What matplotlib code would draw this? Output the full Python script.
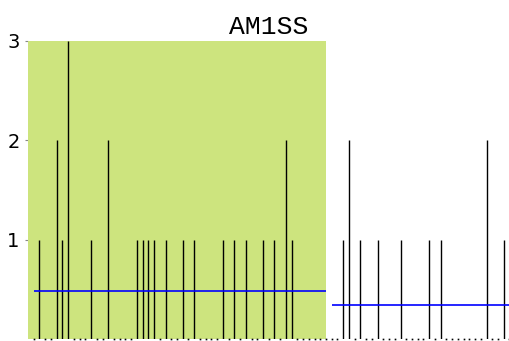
import numpy as np
import matplotlib.pyplot as plt

# --- Spike counts per position (1-based), zero elsewhere ---
n_pos = 84
spike_pos = [2, 5, 6, 7, 11, 14, 19, 20, 21, 22, 24, 27, 29, 34, 36, 38, 41, 43, 45, 46,
             55, 56, 58, 61, 65, 70, 72, 80, 83]
spike_val = [1, 2, 1, 3, 1, 2, 1, 1, 1, 1, 1, 1, 1, 1, 1, 1, 1, 1, 2, 1,
             1, 2, 1, 1, 1, 1, 1, 2, 1]

# --- Two segments, the first one shaded ---
seg_bounds = [(1, 52), (53, 84)]
title = "AM1SS"

counts = np.zeros(n_pos + 1)
counts[spike_pos] = spike_val
pos = np.arange(1, n_pos + 1)
vals = counts[1:]

fig = plt.figure(figsize=(5.10, 3.41), dpi=100)
ax = fig.add_axes([28 / 510, 2 / 341, 482 / 510, 298 / 341])

# shaded first segment
ax.axvspan(0, seg_bounds[0][1], color='#cde47e', lw=0, zorder=2)

# spikes and zero markers
nz = vals > 0
ax.vlines(pos[nz], 0, vals[nz], colors='black', lw=1, zorder=3)
ax.plot(pos[~nz], vals[~nz], ls='none', marker='s', ms=1.2, mew=0,
        color='black', clip_on=False, zorder=3)

# segment means
for a, b in seg_bounds:
    m = counts[a:b + 1].mean()
    ax.hlines(m, a, b, colors='#0000ff', lw=1.2, zorder=4)

ax.set_xlim(0, 84.1)
ax.set_ylim(0, 3)
ax.set_yticks([1, 2, 3])
ax.set_xticks([])
ax.tick_params(axis='y', length=2, direction='out', color='#888888', labelsize=14, pad=4)
for s in ax.spines.values():
    s.set_visible(False)
ax.set_title(title, fontsize=19, family='Liberation Mono', pad=5)

fig.savefig('out.png', dpi=100)
